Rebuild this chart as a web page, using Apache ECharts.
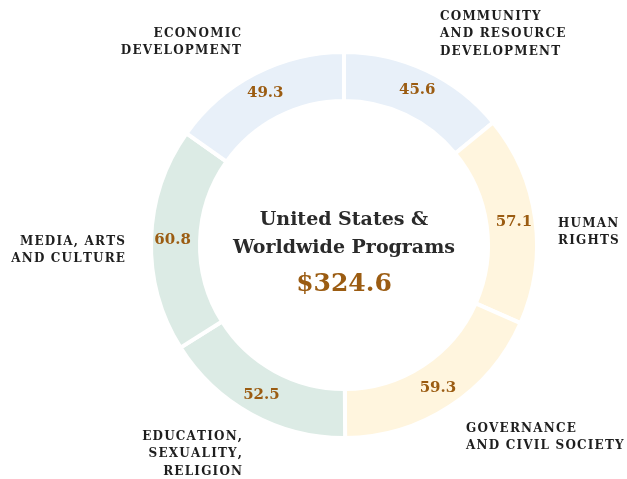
<!DOCTYPE html>
<html><head><meta charset="utf-8">
<script src="https://cdn.jsdelivr.net/npm/echarts@6/dist/echarts.min.js"></script>
<style>html,body{margin:0;padding:0;background:#fff}#c{width:627px;height:479px}</style>
</head><body><div id="c"></div>
<script>
const categories = ['COMMUNITY\nAND RESOURCE\nDEVELOPMENT','HUMAN\nRIGHTS','GOVERNANCE\nAND CIVIL SOCIETY','EDUCATION,\nSEXUALITY,\nRELIGION','MEDIA, ARTS\nAND CULTURE','ECONOMIC\nDEVELOPMENT'];
const values = [45.6, 57.1, 59.3, 52.5, 60.8, 49.3];
const centerTitle = ['United States &', 'Worldwide Programs'];
const totalLabel = '$324.6';

const colors = ['#e8f0f9','#fff5de','#fff5de','#dcebe5','#dcebe5','#e8f0f9'];
const labelPos = [
  {x:440,y:16,align:'left'},
  {x:558,y:223,align:'left'},
  {x:466,y:428,align:'left'},
  {x:242,y:436,align:'right'},
  {x:125,y:241,align:'right'},
  {x:241,y:33,align:'right'}
];
// emulate letter spacing with hair spaces
const spaced = s => s.split('\n').map(l => Array.from(l).join('\u200A')).join('\n');
const labelFont = 'bold 12px "DejaVu Serif"';
const graphics = categories.map((c,i)=>({
  type:'text', x:labelPos[i].x, y:labelPos[i].y - 8,
  style:{text:spaced(c), font:labelFont, fill:'#1e1e1e', align:labelPos[i].align, verticalAlign:'top', lineHeight:17.5}
}));
graphics.push({type:'text', x:344, y:234, style:{text:centerTitle.join('\n'), font:'bold 19px "DejaVu Serif"', fill:'#2a2a2a', align:'center', verticalAlign:'middle', lineHeight:28}});
graphics.push({type:'text', x:344, y:284, style:{text:totalLabel, font:'bold 25px "DejaVu Serif"', fill:'#9b5c12', align:'center', verticalAlign:'middle'}});

const chart = echarts.init(document.getElementById('c'));
chart.setOption({
  animation:false,
  graphic: graphics,
  series:[{
    type:'pie', center:[344,245], radius:[144,193], startAngle:90, clockwise:true,
    silent:true,
    itemStyle:{borderColor:'#fff', borderWidth:4},
    label:{show:true, position:'inside', formatter:p=>p.value.toFixed(1), color:'#9b5c12', fontFamily:'DejaVu Serif', fontWeight:'bold', fontSize:15},
    labelLine:{show:false},
    data: values.map((v,i)=>({value:v, name:categories[i], itemStyle:{color:colors[i]}}))
  }]
});
</script></body></html>
